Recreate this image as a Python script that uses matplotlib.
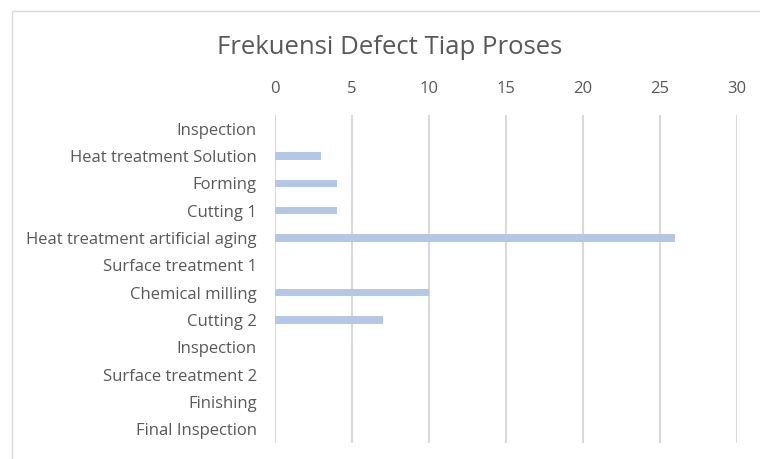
import matplotlib.pyplot as plt
from matplotlib.patches import Rectangle

# data (top to bottom)
processes = ['Inspection', 'Heat treatment Solution', 'Forming', 'Cutting 1',
             'Heat treatment artificial aging', 'Surface treatment 1',
             'Chemical milling', 'Cutting 2', 'Inspection', 'Surface treatment 2',
             'Finishing', 'Final Inspection']
defects = [0, 3, 4, 4, 26, 0, 10, 7, 0, 0, 0, 0]
x_ticks = [0, 5, 10, 15, 20, 25, 30]

plt.rcParams['font.family'] = ['Open Sans', 'DejaVu Sans']
txt = '#595959'

fig = plt.figure(figsize=(7.6, 4.59), dpi=100)
ax = fig.add_axes([275 / 760, 1 - 443 / 459, (737 - 275) / 760, (443 - 115) / 459])

pos = list(range(len(processes)))
ax.barh(pos, defects, height=0.26, color='#b4c7e7', zorder=3)
ax.set_ylim(len(processes) - 0.5, -0.5)
ax.set_yticks(pos)
ax.set_yticklabels(processes, fontsize=12, color=txt)
ax.set_xlim(0, 30)
ax.set_xticks(x_ticks)
ax.xaxis.tick_top()
ax.tick_params(axis='x', labelsize=12, colors=txt, length=0, pad=13)
ax.tick_params(axis='y', length=0, pad=13)
ax.grid(axis='x', color='#d9d9d9', linewidth=1.5, zorder=0)
for s in ax.spines.values():
    s.set_visible(False)

fig.text(390 / 760, 1 - 48 / 459, 'Frekuensi Defect Tiap Proses', ha='center',
         va='center', fontsize=18.5, color=txt)

# light chart border (cut off at right and bottom like the screenshot)
fig.patches.append(Rectangle((12 / 760, -0.1), 1.2, 1 - 11 / 459 + 0.1,
                             transform=fig.transFigure, fill=False,
                             edgecolor='#d9d9d9', linewidth=1))

fig.savefig('out.png', dpi=100)
